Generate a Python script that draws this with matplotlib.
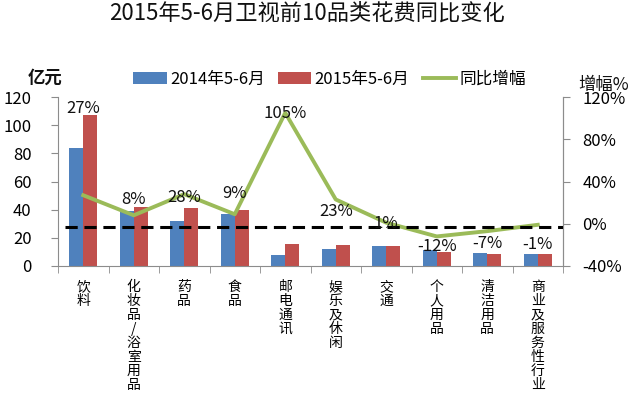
import matplotlib.pyplot as plt
from matplotlib.ticker import FuncFormatter
import numpy as np

plt.rcParams['font.family'] = ['Noto Sans CJK SC', 'DejaVu Sans']

# data
categories = ["饮料", "化妆品/浴室用品", "药品", "食品", "邮电通讯",
              "娱乐及休闲", "交通", "个人用品", "清洁用品", "商业及服务性行业"]
spend_2014 = [84, 39, 32, 37, 7.5, 12, 14, 11.5, 9, 8.3]
spend_2015 = [107, 42, 41, 40, 15.4, 14.8, 14.1, 10.1, 8.4, 8.2]
growth = [27, 8, 28, 9, 105, 23, 1, -12, -7, -1]
ref_level = -3.5   # dashed reference line, on the % axis

# layout: where each growth label sits (in % units of the right axis)
label_y = [109.5, 23.4, 25.3, 29, 104, 12, 0.7, -22, -18.3, -19.2]

blue = "#4F81BD"
red = "#C0504D"
green = "#9BBB59"
grey = "#8C8C8C"

fig = plt.figure(figsize=(6.4, 3.98), dpi=100)
ax = fig.add_axes([58 / 640, 132 / 398, 505 / 640, 169 / 398])
ax2 = ax.twinx()

x = np.arange(len(categories))
w = 0.28
b1 = ax.bar(x - w / 2, spend_2014, w, color=blue, label="2014年5-6月", zorder=2)
b2 = ax.bar(x + w / 2, spend_2015, w, color=red, label="2015年5-6月", zorder=2)
l1, = ax2.plot(x, growth, color=green, lw=2.8, label="同比增幅", zorder=3)
ax2.axhline(ref_level, xmin=0.014, xmax=1, color="black", lw=2.2,
            linestyle=(0, (4, 2.2)), zorder=4)

for xi, g, ly in zip(x, growth, label_y):
    ax2.text(xi, ly, "%d%%" % g, ha="center", va="center", fontsize=12,
             color="#111111", zorder=5)

ax.set_xlim(-0.5, len(categories) - 0.5)
ax.set_ylim(0, 120)
ax.set_yticks(range(0, 121, 20))
ax2.set_ylim(-40, 120)
ax2.set_yticks(range(-40, 121, 40))
ax2.yaxis.set_major_formatter(FuncFormatter(lambda v, p: "%d%%" % v))

ax.set_xticks(x)
ax.set_xticklabels(["\n".join(c) for c in categories], fontsize=10,
                   linespacing=1.0, va="top")
ax.set_xticks(np.arange(-0.5, len(categories)), minor=True)
ax.tick_params(axis="x", which="major", length=0, pad=10)
ax.tick_params(axis="x", which="minor", length=5, color=grey, direction="out")
ax.tick_params(axis="y", length=5, color=grey, labelsize=12, pad=14)
ax2.tick_params(axis="y", length=5, color=grey, labelsize=12, pad=9)

for a in (ax, ax2):
    a.spines["top"].set_visible(False)
    for s in ("left", "right", "bottom"):
        a.spines[s].set_color(grey)
ax2.spines["left"].set_visible(False)
ax2.spines["bottom"].set_visible(False)

fig.legend(handles=[b1, b2, l1], loc="center", bbox_to_anchor=(0.515, 0.8),
           ncol=3, frameon=False, fontsize=12, handlelength=2.0,
           handletextpad=0.2, columnspacing=0.8, borderpad=0)

fig.text(0.48, 0.967, "2015年5-6月卫视前10品类花费同比变化", ha="center",
         va="center", fontsize=16, color="#111111")
fig.text(28 / 640, 0.804, "亿元", ha="left", va="center", fontsize=12.5,
         fontweight="bold", color="#111111")
fig.text(578 / 640, 0.786, "增幅%", ha="left", va="center", fontsize=12.5,
         color="#111111")

fig.savefig("out.png", dpi=100)
